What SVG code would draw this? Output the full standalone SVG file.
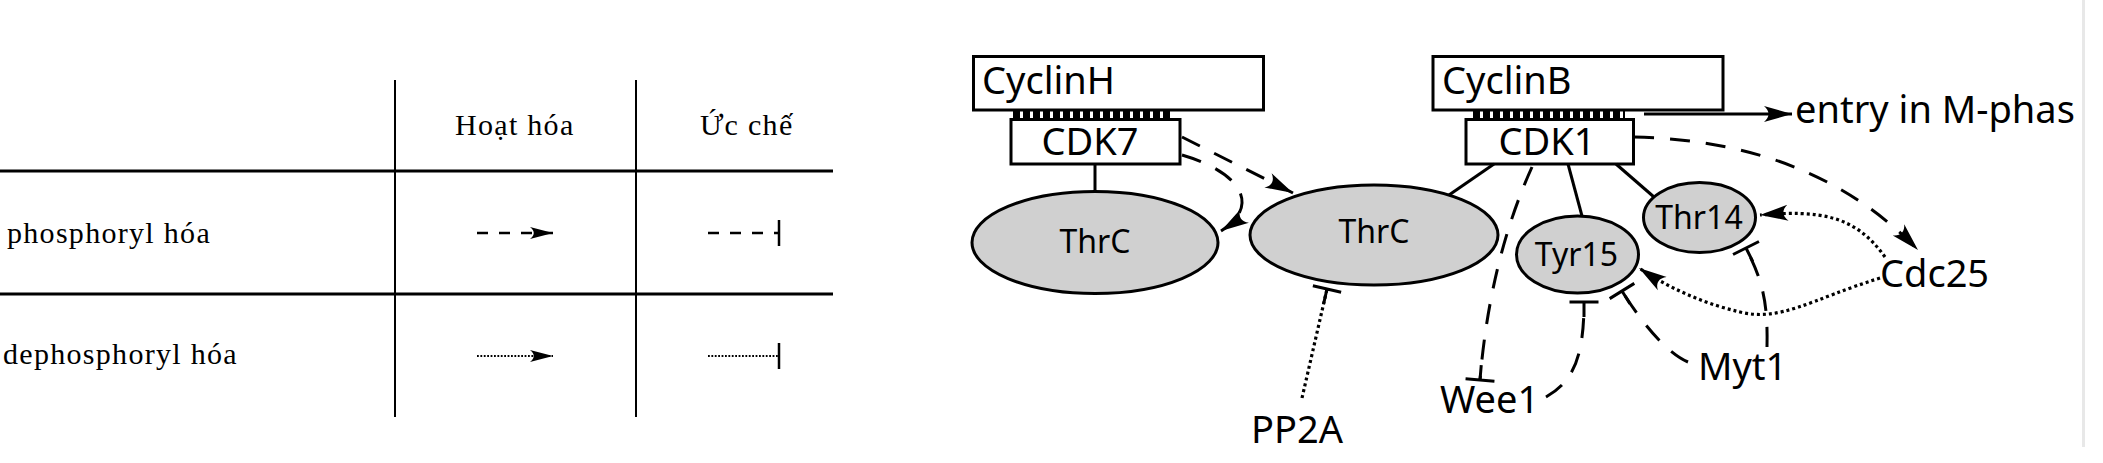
<svg xmlns="http://www.w3.org/2000/svg" width="2103" height="463" viewBox="0 0 2103 463">
<style>
.tt{font-family:"Liberation Serif","Times New Roman",serif;font-size:30px;letter-spacing:1.3px;fill:#000}
.lbl{font-family:"Noto Sans","DejaVu Sans",sans-serif;font-size:38px;fill:#000}
.sm{font-family:"Noto Sans","DejaVu Sans",sans-serif;font-size:32px;fill:#000;text-anchor:middle}
.box{fill:#fff;stroke:#000;stroke-width:3}
.ell{fill:#d0d0d0;stroke:#000;stroke-width:3}
.ln{fill:none;stroke:#000;stroke-width:3}
.ds{fill:none;stroke:#000;stroke-width:3;stroke-dasharray:20 16}
.dt{fill:none;stroke:#000;stroke-width:3.2;stroke-dasharray:3 3}
.lds{fill:none;stroke:#000;stroke-width:2.4;stroke-dasharray:11 11}
.ldt{fill:none;stroke:#000;stroke-width:2;stroke-dasharray:1.8 1.6}
.tick{fill:none;stroke:#000;stroke-width:9;stroke-dasharray:7 3}
.grid{stroke:#000;fill:none}
</style>
<defs>
<marker id="arL" markerUnits="userSpaceOnUse" viewBox="0 0 26 14" markerWidth="26" markerHeight="14" refX="23" refY="7" orient="auto">
<path d="M23,7 L0,1 C5,5 5,9 0,13 Z" fill="#000"/>
</marker>
<marker id="arD" markerUnits="userSpaceOnUse" viewBox="0 0 30 18" markerWidth="30" markerHeight="18" refX="28" refY="9" orient="auto">
<path d="M28,9 L0,1 C6,6 6,12 0,17 Z" fill="#000"/>
</marker>
<marker id="tbL" markerUnits="userSpaceOnUse" viewBox="0 0 4 28" markerWidth="4" markerHeight="28" refX="2" refY="14" orient="auto">
<path d="M2,1 L2,27" stroke="#000" stroke-width="2.5"/>
</marker>
<marker id="tbD" markerUnits="userSpaceOnUse" viewBox="-14 0 20 32" markerWidth="20" markerHeight="32" refX="3" refY="16" orient="auto">
<path d="M3,1.5 L3,30.5 M3,16 L-12,16" stroke="#000" stroke-width="3" fill="none"/>
</marker>
</defs>
<rect width="2103" height="463" fill="#fff"/>
<line x1="2083.5" y1="0" x2="2083.5" y2="447" stroke="#e8e8e8" stroke-width="3"/>

<g id="legend">
<line class="grid" x1="395" y1="80" x2="395" y2="417" stroke-width="2"/>
<line class="grid" x1="636" y1="80" x2="636" y2="417" stroke-width="2"/>
<line class="grid" x1="0" y1="171" x2="833" y2="171" stroke-width="3"/>
<line class="grid" x1="0" y1="294" x2="833" y2="294" stroke-width="3"/>
<text class="tt" x="455" y="135">Hoạt hóa</text>
<text class="tt" x="700" y="135">Ức chế</text>
<text class="tt" x="7" y="243">phosphoryl hóa</text>
<text class="tt" x="3" y="364">dephosphoryl hóa</text>
<path class="lds" d="M477,233 L553,233" marker-end="url(#arL)"/>
<path class="lds" d="M708,233 L779,233" marker-end="url(#tbL)"/>
<path class="ldt" d="M477,356 L553,356" marker-end="url(#arL)"/>
<path class="ldt" d="M708,356 L779,356" marker-end="url(#tbL)"/>
</g>

<g id="cyclinH">
<rect class="box" x="973.5" y="56.5" width="290" height="53.5"/>
<text class="lbl" x="982" y="94">CyclinH</text>
</g>
<g id="cdk7">
<line class="tick" x1="1013" y1="114.5" x2="1170" y2="114.5"/>
<rect class="box" x="1011" y="119.5" width="169" height="44.5"/>
<text class="lbl" x="1090" y="155" text-anchor="middle">CDK7</text>
</g>
<g id="thrc1">
<ellipse class="ell" cx="1095" cy="242.5" rx="123" ry="51"/>
<text class="sm" x="1095" y="253">ThrC</text>
</g>
<g id="thrc2">
<ellipse class="ell" cx="1374" cy="235" rx="124" ry="50"/>
<text class="sm" x="1374" y="243">ThrC</text>
</g>
<g id="cyclinB">
<rect class="box" x="1433" y="56.5" width="290" height="53.5"/>
<text class="lbl" x="1442" y="93.5">CyclinB</text>
</g>
<g id="cdk1">
<line class="tick" x1="1473" y1="114.5" x2="1625" y2="114.5"/>
<rect class="box" x="1466" y="119.5" width="167.5" height="44.5"/>
<text class="lbl" x="1547" y="155" text-anchor="middle">CDK1</text>
</g>
<g id="thr14">
<ellipse class="ell" cx="1699.5" cy="217.5" rx="56" ry="35"/>
<text class="sm" x="1699" y="228.5">Thr14</text>
</g>
<g id="tyr15">
<ellipse class="ell" cx="1577.5" cy="254.5" rx="61" ry="38.5"/>
<text class="sm" x="1576.5" y="265.5">Tyr15</text>
</g>
<g id="entry"><text class="lbl" x="1795" y="123">entry in M-phas</text></g>
<g id="cdc25"><text class="lbl" x="1880" y="287">Cdc25</text></g>
<g id="wee1"><text class="lbl" x="1440" y="413">Wee1</text></g>
<g id="myt1"><text class="lbl" x="1698" y="380">Myt1</text></g>
<g id="pp2a"><text class="lbl" x="1251" y="443">PP2A</text></g>

<g id="connectors">
<line class="ln" x1="1095" y1="164" x2="1095" y2="192"/>
<line class="ln" x1="1494" y1="164" x2="1449" y2="195"/>
<line class="ln" x1="1568" y1="164" x2="1582" y2="216"/>
<line class="ln" x1="1616" y1="164" x2="1654" y2="197"/>
<path class="ln" d="M1644,114 L1792,114" marker-end="url(#arD)"/>
<path class="ds" d="M1182,137 L1293,193" marker-end="url(#arD)"/>
<path class="ds" d="M1182,155 C1240,172 1262,205 1221,231" marker-end="url(#arD)"/>
<path class="ds" d="M1634,137 C1760,140 1850,180 1918,250" marker-end="url(#arD)"/>
<path class="ds" d="M1532,167 Q1490,260 1480,380" marker-end="url(#tbD)"/>
<path class="ds" d="M1546,397 C1572,382 1584,360 1584,302" marker-end="url(#tbD)"/>
<path class="ds" d="M1688,362 C1665,352 1640,320 1622,291" marker-end="url(#tbD)"/>
<path class="ds" d="M1767,347 C1768,300 1762,280 1746,248" marker-end="url(#tbD)"/>
<path class="dt" d="M1302,398 L1327,289" marker-end="url(#tbD)"/>
<path class="dt" d="M1885,257 C1855,215 1820,210 1760,215" marker-end="url(#arD)"/>
<path class="dt" d="M1880,278 C1810,300 1780,322 1740,312 C1710,305 1675,292 1639,268" marker-end="url(#arD)"/>
</g>
</svg>
